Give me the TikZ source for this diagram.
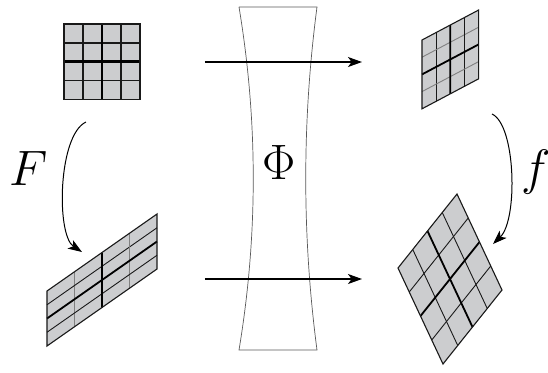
\documentclass[tikz,border=0pt]{standalone}
\usetikzlibrary{arrows.meta}
\definecolor{patchfill}{RGB}{204,205,207}
\tikzset{
	patch/.style={fill=patchfill},
	patchEdge/.style={draw=black!90, line width=0.55pt, line join=miter},
	patchLine/.style={draw=black!90, line width=0.45pt},
	patchFaint/.style={draw=black!50, line width=0.45pt},
	patchMid/.style={draw=black, line width=0.9pt},
	mapArrow/.style={-{Stealth[length=7pt,width=5pt,inset=1.8pt]}, line width=0.65pt},
	bendArrow/.style={-{Stealth[length=7pt,width=5pt,inset=1.8pt]}, line width=0.5pt},
	lensLine/.style={draw=black!65, line width=0.35pt},
	mapLabel/.style={inner sep=0pt, font=\fontsize{23}{26}\selectfont}
}

\begin{document}
\begin{tikzpicture}[x=0.5pt, y=-0.5pt]

	\useasboundingbox (0,0) rectangle (548,372);

	% Lens
	\draw[lensLine] (239,7) -- (317,7)
		.. controls (302,121) and (302,236) .. (317,350) -- (239,350)
		.. controls (258,236) and (258,121) .. (239,7);
	\node[inner sep=0pt, font=\fontsize{26}{30}\selectfont] (phi) at (279,162) {$\Phi$};

	% Patch top left
	\begin{scope}[shift={(64,24)}, x={(9.5pt,0pt)}, y={(0pt,-9.4pt)}]
		\fill[patch] (0,0) -- (4,0) -- (4,4) -- (0,4) -- cycle;
		\foreach \i in {1,3} {
			\draw[patchLine, line width=0.7pt] (\i,0) -- (\i,4);
			\draw[patchLine, line width=0.7pt] (0,\i) -- (4,\i);
		}
		\draw[patchMid, line width=1.2pt] (2,0) -- (2,4) (0,2) -- (4,2);
		\draw[patchEdge, line width=0.7pt] (0,0) -- (4,0) -- (4,4) -- (0,4) -- cycle;
	\end{scope}

	% Patch top right
	\begin{scope}[shift={(422,40)}, x={(7.08pt,3.75pt)}, y={(0pt,-8.6pt)}]
		\fill[patch] (0,0) -- (4,0) -- (4,4) -- (0,4) -- cycle;
		\foreach \i in {1,3} {
			\draw[patchLine] (\i,0) -- (\i,4);
			\draw[patchFaint] (0,\i) -- (4,\i);
		}
		\draw[patchMid] (2,0) -- (2,4) (0,2) -- (4,2);
		\draw[patchEdge] (0,0) -- (4,0) -- (4,4) -- (0,4) -- cycle;
	\end{scope}

	% Patch bottom left
	\begin{scope}[shift={(47,291)}, x={(13.75pt,9.625pt)}, y={(0pt,-6.875pt)}]
		\fill[patch] (0,0) -- (4,0) -- (4,4) -- (0,4) -- cycle;
		\foreach \i in {1,3} {
			\draw[patchFaint, line width=0.6pt] (\i,0) -- (\i,4);
			\draw[patchLine] (0,\i) -- (4,\i);
		}
		\draw[patchMid] (2,0) -- (2,4) (0,2) -- (4,2);
		\draw[patchEdge] (0,0) -- (4,0) -- (4,4) -- (0,4) -- cycle;
	\end{scope}

	% Patch bottom right
	\begin{scope}[shift={(457,194)}, x={(5.625pt,-12pt)}, y={(-7.375pt,-9.25pt)}]
		\fill[patch] (0,0) -- (4,0) -- (4,4) -- (0,4) -- cycle;
		\foreach \i in {1,3} {
			\draw[patchLine] (\i,0) -- (\i,4);
			\draw[patchLine] (0,\i) -- (4,\i);
		}
		\draw[patchMid] (2,0) -- (2,4) (0,2) -- (4,2);
		\draw[patchEdge] (0,0) -- (4,0) -- (4,4) -- (0,4) -- cycle;
	\end{scope}

	% Arrow ends
	\coordinate (topFrom) at (205,62);
	\coordinate (topTo) at (362,62);
	\coordinate (botFrom) at (205,279);
	\coordinate (botTo) at (362,279);
	\coordinate (bigFrom) at (86,122);
	\coordinate (bigTo) at (82,252);
	\coordinate (smallFrom) at (492,114);
	\coordinate (smallTo) at (493,244);

	% Labels
	\node[mapLabel] (bigF) at (29,168) {$F$};
	\node[mapLabel] (smallf) at (536,172) {$f$};

	% Maps
	\draw[mapArrow] (topFrom) -- (topTo);
	\draw[mapArrow] (botFrom) -- (botTo);
	\draw[bendArrow] (bigFrom) .. controls (58,135) and (56,235) .. (bigTo);
	\draw[bendArrow] (smallFrom) .. controls (516,125) and (518,220) .. (smallTo);

\end{tikzpicture}
\end{document}
